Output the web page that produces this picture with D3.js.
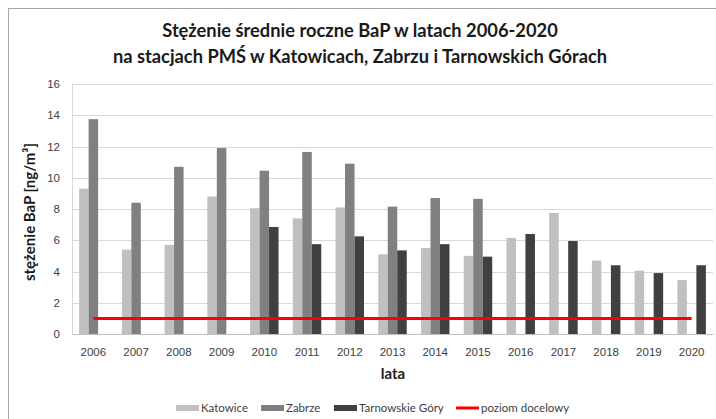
<!DOCTYPE html>
<html>
<head>
<meta charset="utf-8">
<script src="https://cdn.jsdelivr.net/npm/d3@7"></script>
<style>
  body { margin: 0; background: #fff; }
  svg { display: block; font-family: Lato, "Open Sans", sans-serif; }
  .tick text { font-size: 11.5px; fill: #404040; }
</style>
</head>
<body>
<div id="chart"></div>
<script>
// Chart data
var years = ["2006", "2007", "2008", "2009", "2010", "2011", "2012", "2013", "2014", "2015", "2016", "2017", "2018", "2019", "2020"];
var katowice = [9.3, 5.4, 5.7, 8.8, 8.05, 7.4, 8.1, 5.1, 5.5, 5.0, 6.15, 7.75, 4.7, 4.05, 3.45];
var zabrze = [13.75, 8.4, 10.7, 11.9, 10.45, 11.65, 10.9, 8.15, 8.7, 8.65, null, null, null, null, null];
var tarnowskie = [null, null, null, null, 6.85, 5.75, 6.25, 5.35, 5.75, 4.95, 6.4, 5.95, 4.4, 3.9, 4.4];
var target = 1;
var yTicks = [0, 2, 4, 6, 8, 10, 12, 14, 16];
var seriesNames = ["Katowice", "Zabrze", "Tarnowskie Góry"];
var seriesColors = ["#c0c0c0", "#808080", "#404040"];

var svgWidth = 716;
var svgHeight = 419;

// plot area in page pixels
var chartMargin = { top: 84, right: 3, bottom: 85, left: 72 };
var chartWidth = svgWidth - chartMargin.left - chartMargin.right;
var chartHeight = svgHeight - chartMargin.top - chartMargin.bottom;

var svg = d3.select("#chart")
  .append("svg")
  .attr("width", svgWidth)
  .attr("height", svgHeight);

// outer border of the chart
svg.append("rect")
  .attr("x", 8.5).attr("y", 8.5)
  .attr("width", svgWidth + 10).attr("height", svgHeight + 10)
  .attr("fill", "none")
  .attr("stroke", "#a6a6a6");

// Title
var title = svg.append("text")
  .attr("text-anchor", "middle")
  .attr("font-weight", "bold")
  .attr("font-size", "18.3px")
  .attr("fill", "#1a1a1a");
title.append("tspan").attr("x", 360).attr("y", 37)
  .text("Stężenie średnie roczne BaP w latach 2006-2020");
title.append("tspan").attr("x", 360).attr("y", 63)
  .text("na stacjach PMŚ w Katowicach, Zabrzu i Tarnowskich Górach");

var chartGroup = svg.append("g")
  .attr("transform", `translate(${chartMargin.left}, ${chartMargin.top})`);

var x0 = d3.scaleBand()
  .domain(years)
  .range([0, chartWidth]);

var x1 = d3.scaleBand()
  .domain(seriesNames)
  .range([0, x0.bandwidth()])
  .paddingOuter(0.75);

var yLinearScale = d3.scaleLinear()
  .domain([0, 16])
  .range([chartHeight, 0]);

// gridlines
chartGroup.selectAll(".grid")
  .data(yTicks.slice(1))
  .enter()
  .append("line")
  .attr("x1", 0)
  .attr("x2", chartWidth)
  .attr("y1", d => Math.round(yLinearScale(d)) + 0.5)
  .attr("y2", d => Math.round(yLinearScale(d)) + 0.5)
  .attr("stroke", "#d9d9d9");

// left axis
var leftAxis = d3.axisLeft(yLinearScale).tickValues(yTicks).tickSize(0).tickPadding(12);
var gy = chartGroup.append("g").call(leftAxis);
gy.select(".domain").attr("stroke", "#d9d9d9");

// bars
var seriesData = [katowice, zabrze, tarnowskie];
seriesData.forEach(function(values, i) {
  chartGroup.selectAll(".bar" + i)
    .data(years.map((yr, j) => ({ year: yr, value: values[j] })).filter(d => d.value != null))
    .enter()
    .append("rect")
    .attr("class", "bar" + i)
    .attr("x", d => x0(d.year) + x1(seriesNames[i]))
    .attr("y", d => yLinearScale(d.value))
    .attr("width", x1.bandwidth())
    .attr("height", d => chartHeight - yLinearScale(d.value))
    .attr("fill", seriesColors[i]);
});

// bottom axis
var bottomAxis = d3.axisBottom(x0).tickSize(0).tickPadding(14);
var gx = chartGroup.append("g")
  .attr("transform", `translate(0, ${chartHeight})`)
  .call(bottomAxis);
gx.select(".domain").attr("stroke", "#bfbfbf");

// target line
var line1 = d3.line()
  .x(d => x0(d) + x0.bandwidth() / 2)
  .y(() => yLinearScale(target));

chartGroup.append("path")
  .datum(years)
  .attr("d", line1)
  .attr("fill", "none")
  .attr("stroke", "#ff0000")
  .attr("stroke-width", 3);

// axis titles
svg.append("text")
  .attr("transform", "translate(35, 212) rotate(-90)")
  .attr("text-anchor", "middle")
  .attr("font-weight", "bold")
  .attr("font-size", "15px")
  .attr("fill", "#1a1a1a")
  .text("stężenie BaP [ng/m³]");

svg.append("text")
  .attr("x", 393)
  .attr("y", 379)
  .attr("text-anchor", "middle")
  .attr("font-weight", "bold")
  .attr("font-size", "15px")
  .attr("fill", "#1a1a1a")
  .text("lata");

// legend
var legendItems = [
  { name: "Katowice", x: 176, color: seriesColors[0], kind: "box" },
  { name: "Zabrze", x: 261, color: seriesColors[1], kind: "box" },
  { name: "Tarnowskie Góry", x: 334, color: seriesColors[2], kind: "box" },
  { name: "poziom docelowy", x: 456, color: "#ff0000", kind: "line" }
];
var legend = svg.append("g");
legendItems.forEach(function(d) {
  if (d.kind == "box") {
    legend.append("rect")
      .attr("x", d.x).attr("y", 405)
      .attr("width", 23).attr("height", 6)
      .attr("fill", d.color);
  } else {
    legend.append("line")
      .attr("x1", d.x).attr("x2", d.x + 23)
      .attr("y1", 408).attr("y2", 408)
      .attr("stroke", d.color).attr("stroke-width", 3);
  }
  legend.append("text")
    .attr("x", d.x + 25)
    .attr("y", 412)
    .attr("font-size", "11.5px")
    .attr("fill", "#404040")
    .text(d.name);
});
</script>
</body>
</html>
